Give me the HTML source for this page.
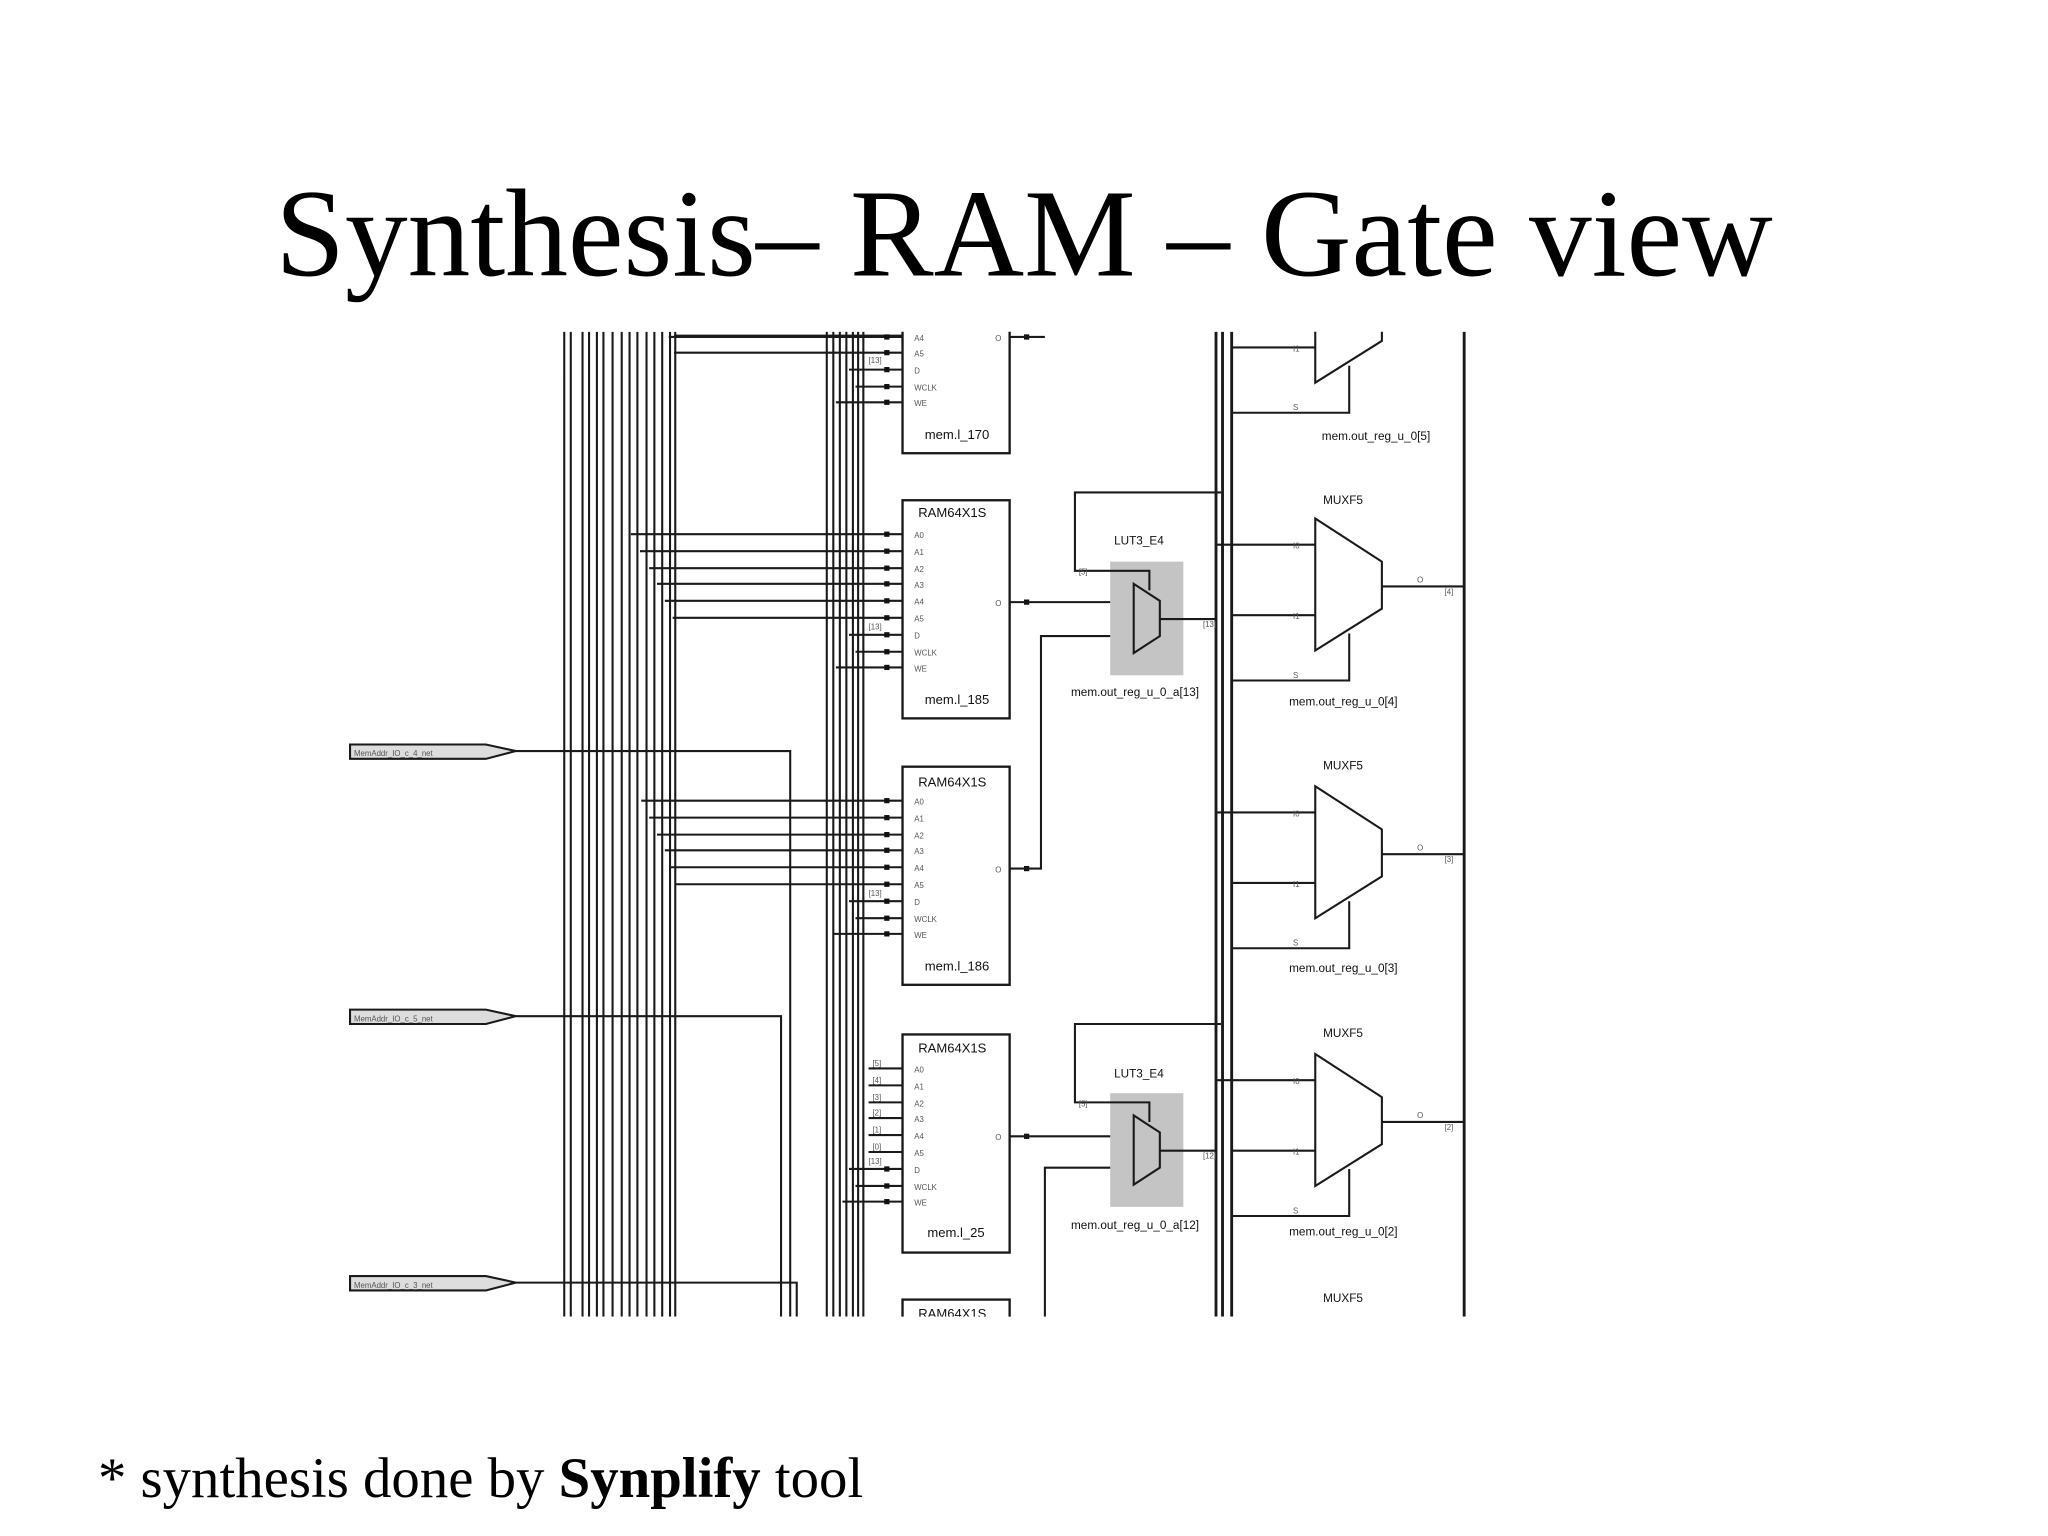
<!DOCTYPE html>
<html><head><meta charset="utf-8"><style>
html,body{margin:0;padding:0;background:#fff;}
svg{display:block;}
</style></head><body>
<svg width="2048" height="1536" viewBox="0 0 1568 1176" xmlns="http://www.w3.org/2000/svg">
<rect width="1568" height="1176" fill="#fff"/>
<text x="784" y="211" text-anchor="middle" font-family="Liberation Serif, serif" font-size="96" fill="#000">Synthesis– RAM – Gate view</text>
<text x="75" y="1146" font-family="Liberation Serif, serif" font-size="43.5" fill="#000">* synthesis done by <tspan font-weight="bold">Synplify</tspan> tool</text>
<defs><clipPath id="c"><rect x="262" y="254" width="866" height="754"/></clipPath></defs>
<g clip-path="url(#c)" font-family="Liberation Sans, sans-serif" fill="none" stroke="#1a1a1a" stroke-width="1.6">
<path d="M432 254V1008M437 254V1008M446 254V1008M451 254V1008M457 254V1008M462 254V1008M469 254V1008M476 254V1008M482 254V1008M488 254V1008M495 254V1008M501 254V1008M507 254V1008M513 254V1008M517 254V1008"/>
<path d="M633 254V1008M638 254V1008M643 254V1008M648 254V1008M653 254V1008M657 254V1008M661 254V1008"/>
<path d="M931 254V1008M936 254V1008M943 254V1008M1121 254V1008" stroke-width="2.2"/>
<g fill="#ddd">
<polygon points="268,570 372,570 395,575 372,581 268,581"/>
<polygon points="268,773 372,773 395,778 372,784 268,784"/>
<polygon points="268,977 372,977 395,982 372,988 268,988"/>
</g>
<path d="M395 575H605V1008M395 778H598V1008M395 982H610V1008"/>
<g stroke-width="1.8">
<rect x="691" y="180" width="82" height="167"/>
<rect x="691" y="383" width="82" height="167"/>
<rect x="691" y="587" width="82" height="167"/>
<rect x="691" y="792" width="82" height="167"/>
<rect x="691" y="995" width="82" height="167"/>
</g>
<path d="M516 257H691M512 258H691M516 270H691M650 283H691M655 296H691M640 308H691"/>
<path d="M483 409H691M490 422H691M497 435H691M503 447H691M509 460H691M515 473H691M650 486H691M655 499H691M640 511H691"/>
<path d="M491 613H691M497 626H691M503 639H691M509 651H691M513 664H691M517 677H691M650 690H691M655 703H691M638 715H691"/>
<path d="M665 818H691M665 831H691M665 844H691M665 856H691M665 869H691M665 882H691M650 895H691M655 908H691M645 920H691"/>
<g fill="#111" stroke="none">
<rect x="677" y="256" width="4" height="4"/><rect x="677" y="268" width="4" height="4"/><rect x="677" y="281" width="4" height="4"/><rect x="677" y="294" width="4" height="4"/><rect x="677" y="306" width="4" height="4"/>
<rect x="677" y="407" width="4" height="4"/><rect x="677" y="420" width="4" height="4"/><rect x="677" y="433" width="4" height="4"/><rect x="677" y="445" width="4" height="4"/><rect x="677" y="458" width="4" height="4"/><rect x="677" y="471" width="4" height="4"/><rect x="677" y="484" width="4" height="4"/><rect x="677" y="497" width="4" height="4"/><rect x="677" y="509" width="4" height="4"/>
<rect x="677" y="611" width="4" height="4"/><rect x="677" y="624" width="4" height="4"/><rect x="677" y="637" width="4" height="4"/><rect x="677" y="649" width="4" height="4"/><rect x="677" y="662" width="4" height="4"/><rect x="677" y="675" width="4" height="4"/><rect x="677" y="688" width="4" height="4"/><rect x="677" y="701" width="4" height="4"/><rect x="677" y="713" width="4" height="4"/>
<rect x="677" y="893" width="4" height="4"/><rect x="677" y="906" width="4" height="4"/><rect x="677" y="918" width="4" height="4"/>
<rect x="784" y="256" width="4" height="4"/><rect x="784" y="459" width="4" height="4"/><rect x="784" y="663" width="4" height="4"/><rect x="784" y="868" width="4" height="4"/>
</g>
<path d="M773 258H800M773 461H868M773 665H797V487H868M773 870H868M800 1008V894H868"/>
<rect x="850" y="430" width="56" height="87" fill="#c4c4c4" stroke="none"/>
<rect x="850" y="837" width="56" height="87" fill="#c4c4c4" stroke="none"/>
<path d="M868 447L888 460L888 487L868 500Z M888 474H931 M935 377H823V437H880V452"/>
<path d="M868 854L888 867L888 894L868 907Z M888 881H931 M935 784H823V844H880V859"/>
<path d="M1007 192L1058 225L1058 261L1007 293Z M943 266H1007 M943 316H1033V280 M931 212H1007 M1058 244H1121"/>
<path d="M1007 397L1058 430L1058 466L1007 498Z M931 417H1007 M943 471H1007 M943 521H1033V485 M1058 449H1121"/>
<path d="M1007 602L1058 635L1058 671L1007 703Z M931 622H1007 M943 676H1007 M943 726H1033V690 M1058 654H1121"/>
<path d="M1007 807L1058 840L1058 876L1007 908Z M931 827H1007 M943 881H1007 M943 931H1033V895 M1058 859H1121"/>
<g fill="#111" stroke="none" font-size="9">
<text x="1012" y="337">mem.out_reg_u_0[5]</text>
<text x="987" y="540">mem.out_reg_u_0[4]</text>
<text x="987" y="744">mem.out_reg_u_0[3]</text>
<text x="987" y="946">mem.out_reg_u_0[2]</text>
<text x="1013" y="386">MUXF5</text>
<text x="1013" y="589">MUXF5</text>
<text x="1013" y="794">MUXF5</text>
<text x="1013" y="997">MUXF5</text>
<text x="853" y="417">LUT3_E4</text>
<text x="853" y="825">LUT3_E4</text>
<text x="820" y="533">mem.out_reg_u_0_a[13]</text>
<text x="820" y="941">mem.out_reg_u_0_a[12]</text>
<text x="703" y="396" font-size="10">RAM64X1S</text>
<text x="703" y="602" font-size="10">RAM64X1S</text>
<text x="703" y="806" font-size="10">RAM64X1S</text>
<text x="703" y="1009" font-size="10">RAM64X1S</text>
<text x="708" y="336" font-size="10">mem.l_170</text>
<text x="708" y="539" font-size="10">mem.l_185</text>
<text x="708" y="743" font-size="10">mem.l_186</text>
<text x="710" y="947" font-size="10">mem.l_25</text>
<g font-size="6" fill="#555">
<text x="700" y="261">A4</text><text x="700" y="273">A5</text><text x="700" y="286">D</text><text x="700" y="299">WCLK</text><text x="700" y="311">WE</text><text x="762" y="261">O</text>
<text x="700" y="412">A0</text><text x="700" y="425">A1</text><text x="700" y="438">A2</text><text x="700" y="450">A3</text><text x="700" y="463">A4</text><text x="700" y="476">A5</text><text x="700" y="489">D</text><text x="700" y="502">WCLK</text><text x="700" y="514">WE</text><text x="762" y="464">O</text>
<text x="700" y="616">A0</text><text x="700" y="629">A1</text><text x="700" y="642">A2</text><text x="700" y="654">A3</text><text x="700" y="667">A4</text><text x="700" y="680">A5</text><text x="700" y="693">D</text><text x="700" y="706">WCLK</text><text x="700" y="718">WE</text><text x="762" y="668">O</text>
<text x="700" y="821">A0</text><text x="700" y="834">A1</text><text x="700" y="847">A2</text><text x="700" y="859">A3</text><text x="700" y="872">A4</text><text x="700" y="885">A5</text><text x="700" y="898">D</text><text x="700" y="911">WCLK</text><text x="700" y="923">WE</text><text x="762" y="873">O</text>
<text x="668" y="816">[5]</text><text x="668" y="829">[4]</text><text x="668" y="842">[3]</text><text x="668" y="854">[2]</text><text x="668" y="867">[1]</text><text x="668" y="880">[0]</text>
<text x="665" y="482">[13]</text><text x="665" y="686">[13]</text><text x="665" y="891">[13]</text><text x="665" y="278">[13]</text>
<text x="990" y="420">I0</text><text x="990" y="474">I1</text><text x="990" y="519">S</text><text x="1085" y="446">O</text><text x="1106" y="455">[4]</text>
<text x="990" y="625">I0</text><text x="990" y="679">I1</text><text x="990" y="724">S</text><text x="1085" y="651">O</text><text x="1106" y="660">[3]</text>
<text x="990" y="830">I0</text><text x="990" y="884">I1</text><text x="990" y="929">S</text><text x="1085" y="856">O</text><text x="1106" y="865">[2]</text>
<text x="990" y="269">I1</text><text x="990" y="314">S</text>
<text x="826" y="440">[5]</text><text x="826" y="847">[5]</text><text x="921" y="480">[13]</text><text x="921" y="887">[12]</text>
<text x="271" y="579">MemAddr_IO_c_4_net</text>
<text x="271" y="782">MemAddr_IO_c_5_net</text>
<text x="271" y="986">MemAddr_IO_c_3_net</text>
</g>
</g>
</g>
</svg>
</body></html>
